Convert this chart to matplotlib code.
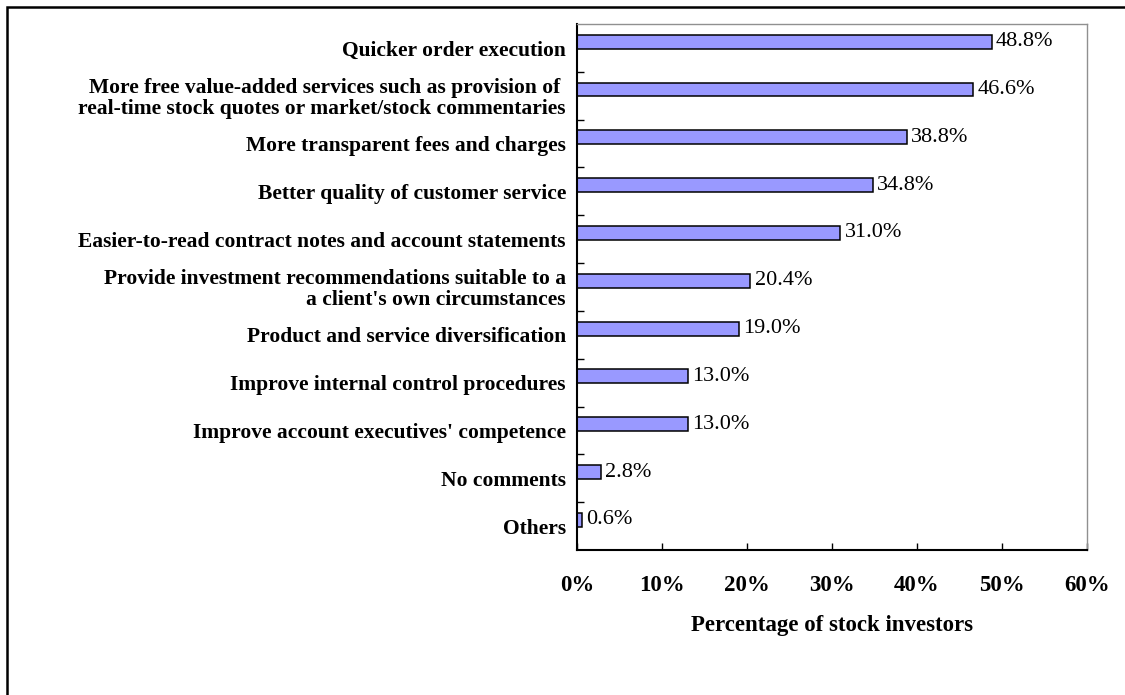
import matplotlib.pyplot as plt
from matplotlib.patches import Rectangle

plt.rcParams['font.family'] = ['Liberation Serif', 'DejaVu Serif']

labels = ["Quicker order execution",
          "More free value-added services such as provision of \nreal-time stock quotes or market/stock commentaries",
          "More transparent fees and charges",
          "Better quality of customer service",
          "Easier-to-read contract notes and account statements",
          "Provide investment recommendations suitable to a\na client's own circumstances",
          "Product and service diversification",
          "Improve internal control procedures",
          "Improve account executives' competence",
          "No comments",
          "Others"]
values = [48.8, 46.6, 38.8, 34.8, 31.0, 20.4, 19.0, 13.0, 13.0, 2.8, 0.6]
xticks = [0, 10, 20, 30, 40, 50, 60]

fig = plt.figure(figsize=(11.25, 6.95), dpi=100)
ax = fig.add_axes([577 / 1125, 1 - 550 / 695, 510 / 1125, 526 / 695])

pos = list(range(len(values)))
shift = -0.13  # bars sit a little above the middle of each category
bar_y = [p + shift for p in pos]
ax.barh(bar_y, values, height=0.29, color='#9999ff', edgecolor='black', linewidth=1.1)
for y, v in zip(bar_y, values):
    ax.text(v + 0.5, y, f"{v:.1f}%", va='center', ha='left', fontsize=16)

ax.set_ylim(len(values) - 0.5, -0.5)
ax.set_xlim(0, 60)
ax.set_yticks([p + 0.5 for p in pos[:-1]])
ax.set_yticklabels([])
ax.set_yticks(pos, minor=True)
ax.set_yticklabels(labels, minor=True, fontsize=15.5, fontweight='bold', ha='right',
                   linespacing=1.05)
ax.tick_params(axis='y', which='minor', length=0, pad=8)
ax.tick_params(axis='y', which='major', direction='in', length=5, width=1)
ax.set_xticks(xticks)
ax.set_xticklabels([f"{t}%" for t in xticks], fontsize=16.5, fontweight='bold')
ax.tick_params(axis='x', direction='in', length=5, width=1, pad=18)
ax.set_xlabel("Percentage of stock investors", fontsize=16.5, fontweight='bold', labelpad=14)

for s in ['left', 'bottom']:
    ax.spines[s].set_linewidth(1.5)
for s in ['top', 'right']:
    ax.spines[s].set_color('#909090')
    ax.spines[s].set_linewidth(1)

# outer frame
fig.patches.append(Rectangle((7 / 1125, -0.1), 1.2, 1 - 7 / 695 + 0.1, transform=fig.transFigure,
                             fill=False, edgecolor='black', linewidth=1.8))

fig.savefig('out.png', dpi=100)
